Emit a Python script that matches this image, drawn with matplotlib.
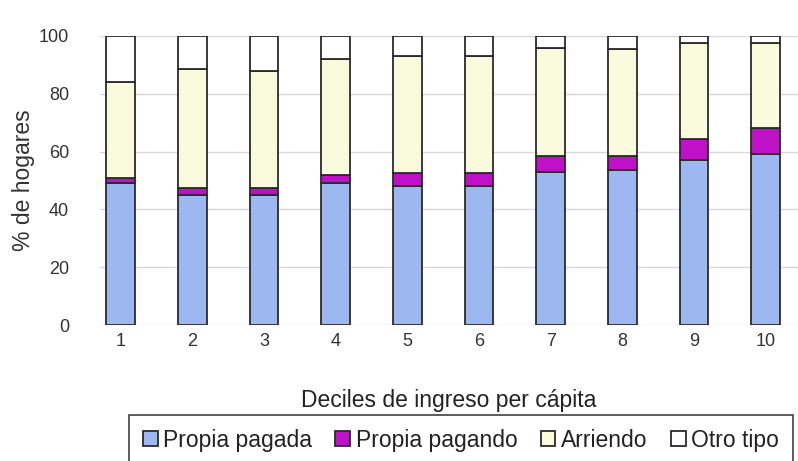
import matplotlib

matplotlib.use("Agg")
import matplotlib.pyplot as plt
import numpy as np

plt.rcParams["font.family"] = ["Liberation Sans", "DejaVu Sans"]

deciles = ["1", "2", "3", "4", "5", "6", "7", "8", "9", "10"]
propia_pagada = [49, 45, 45, 49, 48, 48, 53, 53.5, 57, 59]
propia_pagando = [2, 2.5, 2.5, 3, 4.5, 4.5, 5.5, 5, 7.5, 9]
arriendo = [33, 41, 40.5, 40, 40.5, 40.5, 37.5, 37, 33, 29.5]
otro_tipo = [100 - a - b - c for a, b, c in zip(propia_pagada, propia_pagando, arriendo)]

series = [
    ("Propia pagada", propia_pagada, "#9db7f0"),
    ("Propia pagando", propia_pagando, "#c010c8"),
    ("Arriendo", arriendo, "#fafadc"),
    ("Otro tipo", otro_tipo, "#ffffff"),
]

fig = plt.figure(figsize=(7.98, 4.61), dpi=100)
ax = fig.add_axes([0.125, 0.295, 0.875, 0.627])

x = np.arange(1, len(deciles) + 1)
bottom = np.zeros(len(deciles))
handles = []
for name, vals, color in series:
    b = ax.bar(x, vals, width=0.4, bottom=bottom, color=color,
               edgecolor="#2a2a2a", linewidth=1.3, label=name, zorder=3)
    handles.append(b)
    bottom += np.array(vals)

ax.set_xlim(0.71, 10.45)
ax.set_ylim(0, 100)
ax.set_yticks([0, 20, 40, 60, 80, 100])
ax.set_xticks(x)
ax.set_xticklabels(deciles)
ax.grid(axis="y", color="#d8d8d8", linewidth=1, zorder=0)
for s in ax.spines.values():
    s.set_visible(False)
ax.tick_params(axis="both", length=0, labelsize=13, colors="#333333")
ax.tick_params(axis="y", pad=22)
ax.tick_params(axis="x", pad=6)

ax.set_ylabel("% de hogares", fontsize=16.5, color="#333333", labelpad=3)
ax.set_xlabel("Deciles de ingreso per cápita", fontsize=16.5, color="#222222", labelpad=28)

leg = fig.legend(handles=handles, loc="upper left", bbox_to_anchor=(129 / 798, 1 - 415 / 461),
                 ncol=4, fontsize=16.5, frameon=True, fancybox=False,
                 handlelength=0.65, handleheight=0.65, handletextpad=0.25, columnspacing=1.0,
                 borderpad=0.6, borderaxespad=0, labelcolor="#222222")
leg.get_frame().set_edgecolor("#111111")
leg.get_frame().set_linewidth(1.2)

fig.savefig("out.png", dpi=100)
